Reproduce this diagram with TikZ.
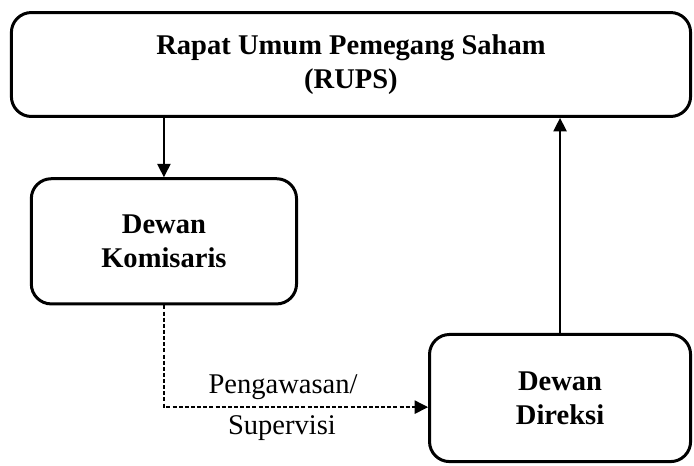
\documentclass[tikz,border=0pt]{standalone}
\usepackage{fontspec}
\setmainfont{Liberation Serif}
\usepackage{tikz}
\usetikzlibrary{arrows.meta,positioning,calc}

\begin{document}
\begin{tikzpicture}[
      arr/.style={-{Triangle[length=10pt,width=10pt]}, line width=1pt, black},
      dasharr/.style={arr, dash pattern=on 3pt off 1.6pt},
      organ/.style={draw=black, line width=2.25pt, rounded corners=15pt,
                    fill=white, align=center, inner sep=0pt,
                    font=\fontsize{21.4}{25.5}\selectfont\bfseries},
      lbl/.style={inner sep=0pt, font=\fontsize{21.4}{25.5}\selectfont}
    ]
    \useasboundingbox (0,0) rectangle (18.29,12.26);
    % top: RUPS across the frame
    \node[organ, minimum width=17.90cm, minimum height=2.74cm] (rups) at (9.25,10.56)
      {Rapat Umum Pemegang Saham\\(RUPS)};
    % middle left and bottom right
    \node[organ, minimum width=6.99cm, minimum height=3.30cm] (kom) at (4.32,5.90)
      {Dewan\\Komisaris};
    \node[organ, minimum width=6.88cm, minimum height=3.35cm] (dir) at (14.76,1.77)
      {Dewan\\Direksi};

    \draw[arr] (kom.north |- rups.south)--(kom.north);
    \draw[arr] (dir.north)--(dir.north |- rups.south);
    \draw[dasharr] (kom.south) |- ($(dir.west)+(0,-0.24)$);

    \node[lbl] (pgw) at (7.46,2.06) {Pengawasan/};
    \node[lbl] (spv) at (7.43,0.98) {Supervisi};
  \end{tikzpicture}
\end{document}
